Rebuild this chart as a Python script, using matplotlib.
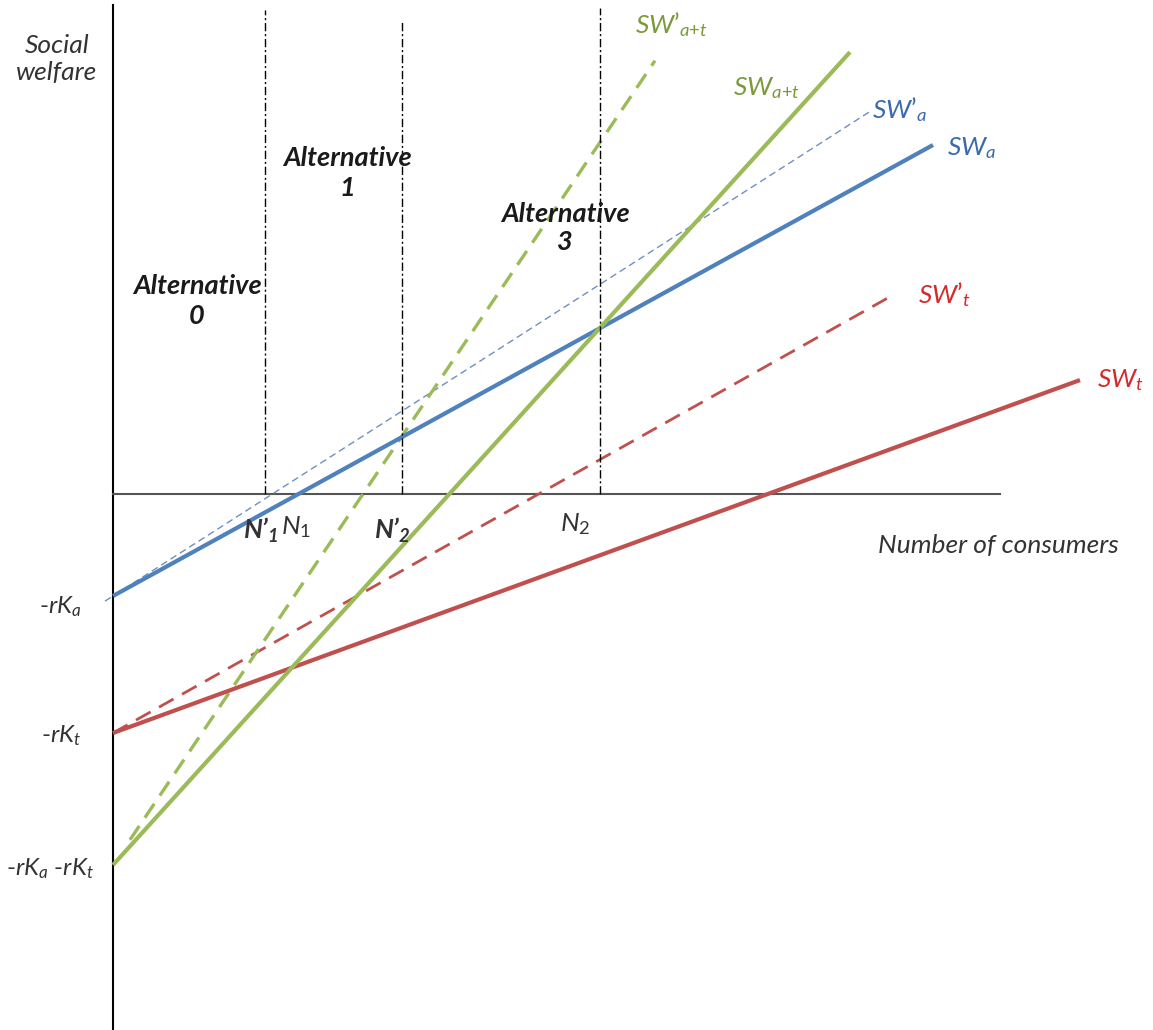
import numpy as np
import matplotlib.pyplot as plt

plt.rcParams['font.family'] = ['Lato', 'DejaVu Sans']
plt.rcParams['mathtext.fontset'] = 'custom'
plt.rcParams['mathtext.rm'] = 'Lato'
plt.rcParams['mathtext.it'] = 'Lato:italic'
plt.rcParams['mathtext.bf'] = 'Lato:bold:italic'

# fixed costs (intercepts on the welfare axis)
rk_a = -1.02
rk_t = -2.39
rk_at = -3.71

# slopes of each welfare line (welfare per consumer)
slope_a, slope_a_p = 0.55, 0.64
slope_t, slope_t_p = 0.365, 0.5615
slope_at, slope_at_p = 1.103, 1.484

# x extent of each line
span_a, span_a_p = (0.0, 8.20), (-0.08, 7.57)
span_t, span_t_p = (0.0, 9.67), (0.0, 7.80)
span_at, span_at_p = (0.0, 7.37), (0.17, 5.42)

# thresholds between alternatives: N'1, N'2, N2
thresholds = [1.52, 2.89, 4.87]
threshold_tops = [4.84, 4.74, 4.86]

blue, red, green = '#4F81BD', '#C0504D', '#9BBB59'

fig = plt.figure(figsize=(11.53, 10.30), dpi=100)
ax = fig.add_axes([0, 0, 1, 1])
ax.set_xlim(-1.13, 10.40)
ax.set_ylim(-5.36, 4.94)
ax.axis('off')

# axes
ax.plot([0, 0], [-5.36, 4.89], color='black', lw=1.5)
ax.plot([0, 8.87], [0, 0], color='#555555', lw=1.5)

def wline(b, m, span, **kw):
    x = np.array(span)
    ax.plot(x, b + m * x, solid_capstyle='butt', **kw)

wline(rk_a, slope_a_p, span_a_p, color='#6F8FC0', lw=1.0, dashes=(5, 3))
wline(rk_t, slope_t_p, span_t_p, color=red, lw=2.0, dashes=(6, 3.5))
wline(rk_at, slope_at_p, span_at_p, color=green, lw=2.4, dashes=(5, 3))
wline(rk_t, slope_t, span_t, color=red, lw=3)
wline(rk_a, slope_a, span_a, color=blue, lw=3)
wline(rk_at, slope_at, span_at, color=green, lw=3)

for xv, top in zip(thresholds, threshold_tops):
    ax.plot([xv, xv], [0, top], color='black', lw=1.0, dashes=(6, 2, 1.5, 2))

tk = dict(fontsize=19, color='#333333')
ax.text(-0.56, 4.35, 'Social\nwelfare', ha='center', va='center',
        style='italic', linespacing=1.25, **tk)
ax.text(8.85, -0.51, 'Number of consumers', ha='center', va='center',
        style='italic', **tk)

yk = dict(fontsize=17.5, color='#333333', ha='right', va='center')
ax.text(-0.32, rk_a - 0.11, '-$rK_{a}$', **yk)
ax.text(-0.32, rk_t - 0.03, '-$rK_{t}$', **yk)
ax.text(-0.19, rk_at - 0.04, '-$rK_{a}$ -$rK_{t}$', **yk)

ax.text(1.66, -0.36, r'$\mathbf{N’_{1}}$', ha='right', va='center', **tk)
ax.text(1.68, -0.33, r'$N_{1}$', ha='left', va='center', **tk)
ax.text(2.79, -0.36, r'$\mathbf{N’_{2}}$', ha='center', va='center', **tk)
ax.text(4.62, -0.30, r'$N_{2}$', ha='center', va='center', **tk)

ak = dict(fontsize=19.5, color='#1a1a1a', style='italic', weight='bold',
          ha='center', va='center', linespacing=1.25)
ax.text(0.84, 1.93, 'Alternative\n0', **ak)
ax.text(2.34, 3.21, 'Alternative\n1', **ak)
ax.text(4.52, 2.66, 'Alternative\n3', **ak)

lk = dict(fontsize=19, ha='left', va='center')
ax.text(5.22, 4.69, r'$SW’_{a{+}t}$', color='#7A9A3C', **lk)
ax.text(6.20, 4.06, r'$SW_{a{+}t}$', color='#7A9A3C', **lk)
ax.text(7.59, 3.84, r'$SW’_{a}$', color='#3A6AAE', **lk)
ax.text(8.34, 3.46, r'$SW_{a}$', color='#3A6AAE', **lk)
ax.text(8.05, 1.99, r'$SW’_{t}$', color='#D42A2A', **lk)
ax.text(9.84, 1.14, r'$SW_{t}$', color='#D42A2A', **lk)

fig.savefig('out.png', dpi=100)
